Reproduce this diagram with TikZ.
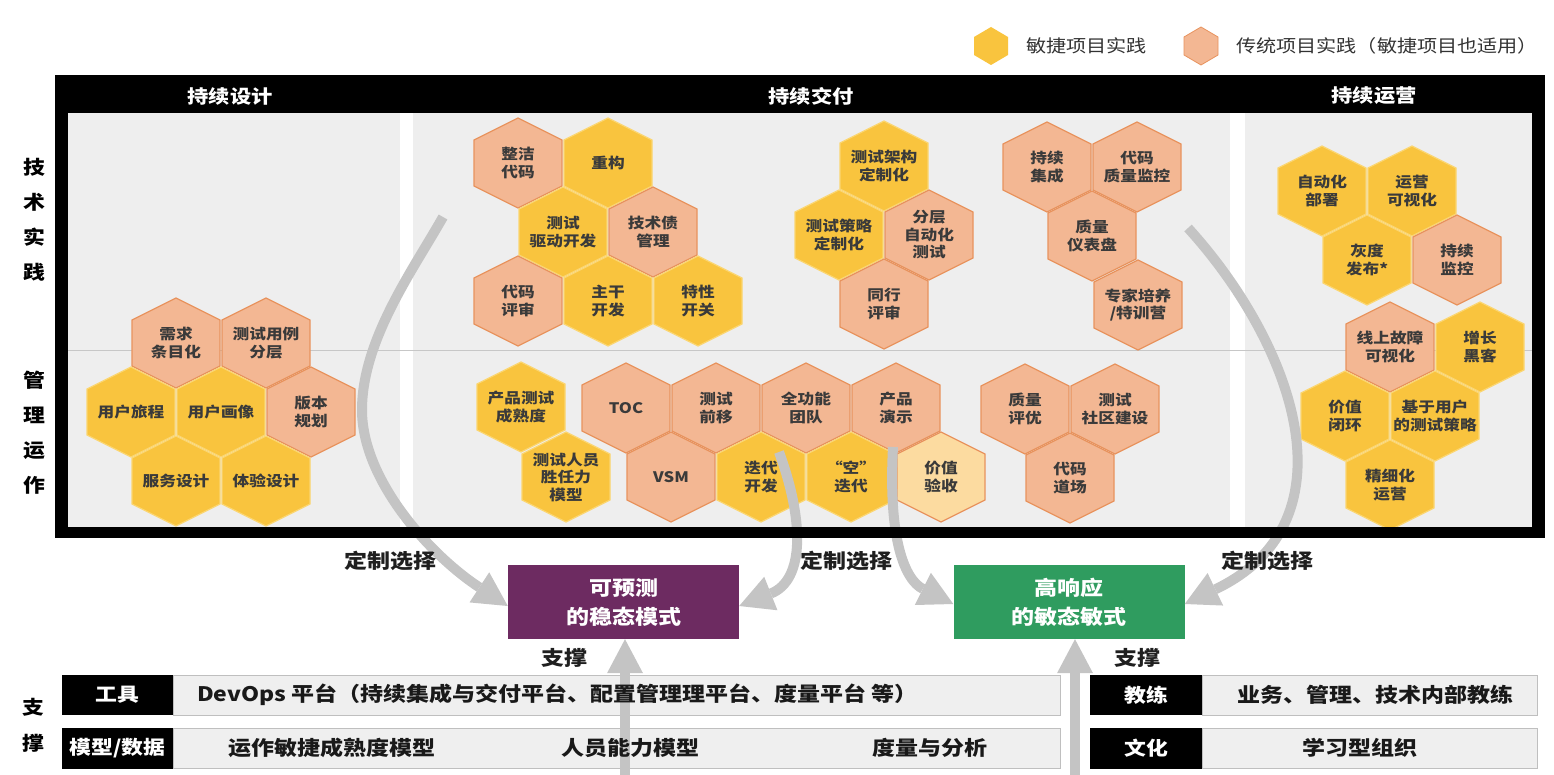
\documentclass[tikz,border=0pt]{standalone}
\usepackage{fontspec}
\setmainfont{Noto Sans CJK SC}[FakeStretch=1.15]
\usetikzlibrary{arrows.meta}
\definecolor{hexY}{HTML}{F9C43E}
\definecolor{hexYb}{HTML}{FBD671}
\definecolor{hexP}{HTML}{F3B793}
\definecolor{hexPb}{HTML}{E8935E}
\definecolor{hexL}{HTML}{FCDBA0}
\definecolor{bgG}{HTML}{EEEEEE}
\definecolor{txt}{HTML}{3A3A3A}
\definecolor{purp}{HTML}{6D2B61}
\definecolor{grn}{HTML}{2F9C5F}
\definecolor{arr}{HTML}{C4C4C4}
\definecolor{cellG}{HTML}{EFEFEF}
\tikzset{
  hY/.style={fill=hexY, draw=hexYb, line width=1.2pt},
  hP/.style={fill=hexP, draw=hexPb, line width=1.2pt},
  hL/.style={fill=hexL, draw=hexPb, line width=1.2pt},
  hextext/.style={align=center, font=\fontsize{14.5}{17.5}\selectfont\bfseries, text=txt, inner sep=0pt},
  hdr/.style={font=\fontsize{18.5}{20}\selectfont\bfseries, text=white, inner sep=0pt},
  sidelab/.style={align=center, font=\fontsize{19}{35}\selectfont\bfseries, text=black, inner sep=0pt},
  legtext/.style={anchor=west, font=\fontsize{17.5}{20}\selectfont, text=black!80, inner sep=0pt},
  modebox/.style={minimum width=231pt, minimum height=74pt, inner sep=0pt, align=center,
    font=\fontsize{20}{29}\selectfont\bfseries, text=white},
  choose/.style={font=\fontsize{20}{22}\selectfont\bfseries, text=black!88, inner sep=0pt},
  blackcell/.style={fill=black, text=white, minimum width=111pt, minimum height=40pt, inner sep=0pt,
    font=\fontsize{19}{21}\selectfont\bfseries},
  graycell/.style={fill=cellG, draw=black!25, line width=0.8pt, minimum height=40pt, inner sep=0pt},
  celltext/.style={font=\fontsize{20}{22}\selectfont\bfseries, text=black!90, inner sep=0pt},
  bigarrow/.style={draw=arr, line width=10pt,
    -{Triangle[length=34pt,width=36pt,line width=0pt]}},
}
\newcommand\hx[5]{%
  \path[#4] (#2,#3) ++(0,-45) -- ++(44,22) -- ++(0,46) -- ++(-44,22) -- ++(-44,-22) -- ++(0,-46) -- cycle;
  \node[hextext] (#1) at (#2,#3) {#5};}
\begin{document}
\begin{tikzpicture}[x=1pt,y=-1pt]
\useasboundingbox (0,0) rectangle (1554,775);
\fill[white] (0,0) rectangle (1554,775);

% legend
\path[fill=hexY] (991,46) ++(0,-19) -- ++(17,10) -- ++(0,18) -- ++(-17,10) -- ++(-17,-10) -- ++(0,-18) -- cycle;
\node[legtext] (leg1) at (1026,46) {敏捷项目实践};
\path[fill=hexP, draw=hexPb, line width=0.8pt] (1201,46) ++(0,-19) -- ++(17,10) -- ++(0,18) -- ++(-17,10) -- ++(-17,-10) -- ++(0,-18) -- cycle;
\node[legtext] (leg2) at (1236,46) {传统项目实践（敏捷项目也适用）};

% frame
\fill[black] (55,75) rectangle (1545,538);
\fill[bgG] (68,113) rectangle (1532,527);
\fill[white] (400,113) rectangle (413,527);
\fill[white] (1230,113) rectangle (1245,527);
\draw[black!22, line width=0.9pt] (68,350) -- (1532,350);

\node[hdr] (t1) at (230,96) {持续设计};
\node[hdr] (t2) at (811,96) {持续交付};
\node[hdr] (t3) at (1374,96) {持续运营};

\node[sidelab] (s1) at (34,220) {技\\术\\实\\践};
\node[sidelab] (s2) at (34,433) {管\\理\\运\\作};

% section 1
\hx{h1}{176}{343}{hP}{需求\\条目化}
\hx{h2}{266}{343}{hP}{测试用例\\分层}
\hx{h3}{131}{412}{hY}{用户旅程}
\hx{h4}{221}{412}{hY}{用户画像}
\hx{h5}{311}{412}{hP}{版本\\规划}
\hx{h6}{176}{481}{hY}{服务设计}
\hx{h7}{266}{481}{hY}{体验设计}

% section 2 top
\hx{d1}{518}{163}{hP}{整洁\\代码}
\hx{d2}{608}{163}{hY}{重构}
\hx{d3}{563}{232}{hY}{测试\\驱动开发}
\hx{d4}{653}{232}{hP}{技术债\\管理}
\hx{d5}{518}{301}{hP}{代码\\评审}
\hx{d6}{608}{301}{hY}{主干\\开发}
\hx{d7}{698}{301}{hY}{特性\\开关}
\hx{d8}{884}{166}{hY}{测试架构\\定制化}
\hx{d9}{839}{235}{hY}{测试策略\\定制化}
\hx{d10}{929}{235}{hP}{分层\\自动化\\测试}
\hx{d11}{884}{304}{hP}{同行\\评审}
\hx{d12}{1047}{167}{hP}{持续\\集成}
\hx{d13}{1137}{167}{hP}{代码\\质量监控}
\hx{d14}{1092}{236}{hP}{质量\\仪表盘}
\hx{d15}{1138}{305}{hP}{专家培养\\/特训营}

% section 2 bottom
\hx{m1}{521}{407}{hY}{产品测试\\成熟度}
\hx{m2}{566}{477}{hY}{测试人员\\胜任力\\模型}
\hx{m3}{626}{408}{hP}{TOC}
\hx{m4}{716}{408}{hP}{测试\\前移}
\hx{m5}{806}{408}{hP}{全功能\\团队}
\hx{m6}{896}{408}{hP}{产品\\演示}
\hx{m7}{671}{477}{hP}{VSM}
\hx{m8}{761}{477}{hY}{迭代\\开发}
\hx{m9}{851}{477}{hY}{“空”\\迭代}
\hx{m10}{941}{477}{hL}{价值\\验收}
\hx{m11}{1025}{409}{hP}{质量\\评优}
\hx{m12}{1115}{409}{hP}{测试\\社区建设}
\hx{m13}{1070}{478}{hP}{代码\\道场}

% section 3
\hx{o1}{1322}{191}{hY}{自动化\\部署}
\hx{o2}{1412}{191}{hY}{运营\\可视化}
\hx{o3}{1367}{260}{hY}{灰度\\发布*}
\hx{o4}{1457}{260}{hP}{持续\\监控}
\hx{o5}{1390}{347}{hP}{线上故障\\可视化}
\hx{o6}{1480}{347}{hY}{增长\\黑客}
\hx{o7}{1345}{416}{hY}{价值\\闭环}
\hx{o8}{1435}{416}{hY}{基于用户\\的测试策略}
\hx{o9}{1390}{485}{hY}{精细化\\运营}

% mode boxes
\node[modebox, fill=purp] (pred) at (623.5,602) {可预测\\的稳态模式};
\node[modebox, fill=grn] (gre) at (1069,602) {高响应\\的敏态敏式};

% curved arrows
\coordinate (a1) at (443,217);
\coordinate (a2) at (779,452);
\coordinate (a3) at (893,447);
\coordinate (a4) at (1188,228);
\draw[bigarrow] (a1) .. controls (413,270) and (362,340) .. (362,410)
   .. controls (362,480) and (430,555) .. ([yshift=-4pt]pred.west);
\draw[bigarrow] (a2) .. controls (804,520) and (805,580) .. ([yshift=-4pt]pred.east);
\draw[bigarrow] (a3) .. controls (888,540) and (905,580) .. ([yshift=-2pt]gre.west);
\draw[bigarrow] (a4) .. controls (1290,340) and (1360,520) .. ([yshift=-2pt]gre.east);
\fill[black] (55,527) rectangle (1545,538);

\node[choose] (c1) at (390,561) {定制选择};
\node[choose] (c2) at (846,561) {定制选择};
\node[choose] (c3) at (1267,561) {定制选择};
\node[choose] (z1) at (564,658) {支撑};
\node[choose] (z2) at (1137,658) {支撑};

% support table
\node[sidelab, font=\fontsize{19}{36}\selectfont\bfseries] (sp) at (33,725) {支\\撑};
\node[graycell, minimum width=887pt] (g1) at (616.5,695) {};
\node[graycell, minimum width=887pt] (g2) at (616.5,748.5) {};
\node[graycell, minimum width=335pt] (g3) at (1369.5,695) {};
\node[graycell, minimum width=335pt] (g4) at (1369.5,748.5) {};
\node[blackcell] (b1) at (117.5,695) {工具};
\node[blackcell, minimum height=41pt] (b2) at (117.5,748.5) {模型/数据};
\node[blackcell, minimum width=112pt] (b3) at (1146,695) {教练};
\node[blackcell, minimum width=112pt, minimum height=41pt] (b4) at (1146,748.5) {文化};

% up arrows
\coordinate (u1) at (625,775);
\coordinate (u2) at (1075,775);
\draw[bigarrow] (u1) -- (u1 |- pred.south);
\draw[bigarrow] (u2) -- (u2 |- gre.south);

\node[celltext, anchor=west] (x1) at (197,695) {DevOps 平台（持续集成与交付平台、配置管理理平台、度量平台 等）};
\node[celltext] (x2) at (332,748) {运作敏捷成熟度模型};
\node[celltext] (x3) at (630,748) {人员能力模型};
\node[celltext] (x4) at (930,748) {度量与分析};
\node[celltext] (x5) at (1375,695) {业务、管理、技术内部教练};
\node[celltext] (x6) at (1360,748) {学习型组织};
\end{tikzpicture}
\end{document}
